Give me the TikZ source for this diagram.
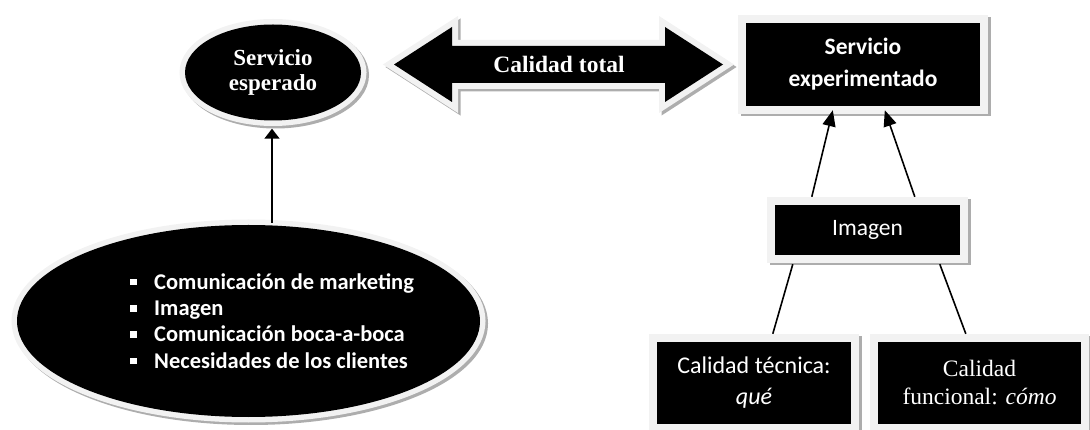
\documentclass[tikz,border=0pt]{standalone}
\usepackage{fontspec}
\setmainfont{Liberation Serif}
\newfontfamily\carlito{Carlito}
\usetikzlibrary{shapes.geometric,arrows.meta}
\newcommand\sqbullet{\makebox[24pt][l]{\rule[4pt]{6.5pt}{6.5pt}}}

\begin{document}
\begin{tikzpicture}[x=1pt,y=-1pt,
  framed/.style={
    preaction={draw=black!32, line width=#1, transform canvas={shift={(2.5pt,-2.5pt)}}},
    preaction={draw=black!5, line width=#1},
    fill=black, text=white, inner sep=0pt},
  oval/.style={ellipse, framed=11pt},
  panel/.style={rectangle, framed=16pt},
  serifbold/.style={font=\bfseries\fontsize{23}{25}\selectfont},
  link/.style={line width=1.6pt},
]
\useasboundingbox (0,0) rectangle (1090,430);

% expected service and its sources
\node[oval, minimum width=176pt, minimum height=96pt, serifbold, align=center]
  (esperado) at (273,72.5) {Servicio\\esperado};
\node[oval, minimum width=463pt, minimum height=192pt] (fuentes) at (248.5,321) {};
\node[anchor=west, text=white, align=left, inner sep=0pt,
      font=\carlito\bfseries\fontsize{22.5}{26.3}\selectfont]
  (lista) at (130,321)
  {\sqbullet Comunicación de marketing\\
   \sqbullet Imagen\\
   \sqbullet Comunicación boca-a-boca\\
   \sqbullet Necesidades de los clientes};

% total quality double arrow
\path[framed=12pt]
  (394,64.5) -- (452,27) -- (452,46) -- (665,46) -- (665,27) -- (723,64.5)
  -- (665,102) -- (665,83) -- (452,83) -- (452,102) -- cycle;
\node[text=white, font=\bfseries\fontsize{23.5}{25}\selectfont]
  (total) at (559,64.5) {Calidad total};

% experienced service and its components
\node[panel, minimum width=234pt, minimum height=83pt, align=center,
      font=\carlito\bfseries\fontsize{23.5}{32}\selectfont]
  (experimentado) at (863,64.5) {Servicio\\experimentado};
\node[panel, minimum width=185pt, minimum height=50pt,
      font=\carlito\fontsize{23.5}{28}\selectfont]
  (imagen) at (867.5,230) {Imagen};
\node[panel, minimum width=194pt, minimum height=82pt, align=center,
      font=\carlito\fontsize{24}{31}\selectfont]
  (tecnica) at (754,383) {Calidad técnica:\\\itshape qué};
\node[panel, minimum width=203pt, minimum height=82pt, align=center,
      font=\fontsize{23.5}{28}\selectfont]
  (funcional) at (979.5,383) {Calidad\\funcional: \textit{cómo}};

% connectors
\draw[link, -{Triangle[length=10pt,width=15pt]}, shorten <=2pt, shorten >=8pt]
  ([xshift=-1pt]esperado.south |- fuentes.north) -- ([xshift=-1pt]esperado.south);
\draw[link, -{Triangle[length=16pt,width=13pt]}]
  ([xshift=37pt,yshift=8pt]imagen.north west) -- ([xshift=87pt,yshift=-4pt]experimentado.south west);
\draw[link, -{Triangle[length=16pt,width=13pt]}]
  ([xshift=140pt,yshift=8pt]imagen.north west) -- ([xshift=139pt,yshift=-4pt]experimentado.south west);
\draw[link]
  ([xshift=18pt,yshift=-9pt]imagen.south west) -- ([xshift=116pt,yshift=8pt]tecnica.north west);
\draw[link]
  ([xshift=165pt,yshift=-9pt]imagen.south west) -- ([xshift=88pt,yshift=8pt]funcional.north west);
\end{tikzpicture}
\end{document}
